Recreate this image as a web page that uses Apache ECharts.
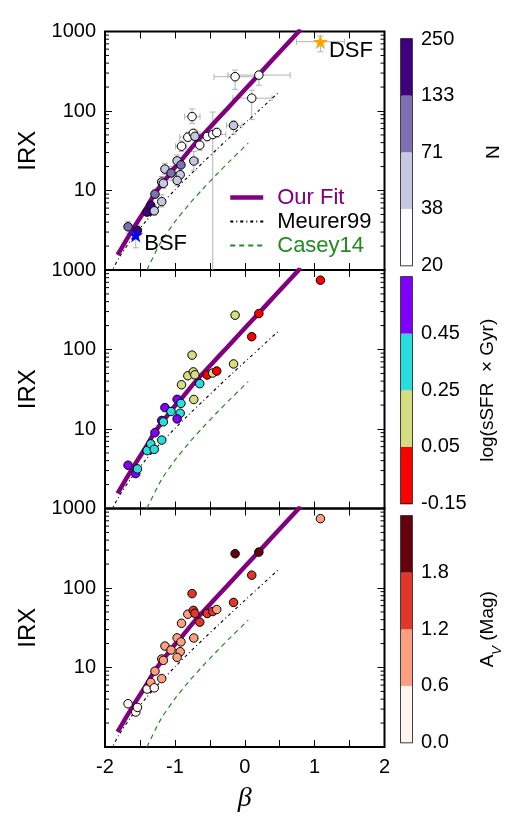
<!DOCTYPE html>
<html><head><meta charset="utf-8">
<script src="https://cdn.jsdelivr.net/npm/echarts@6/dist/echarts.min.js"></script>
<style>html,body{margin:0;padding:0;background:#fff}#c{width:517px;height:831px}</style>
</head><body><div id="c"></div>
<script>
// ---------------- data ----------------
const beta   = [-1.67,-1.56,-1.536,-1.397,-1.345,-1.295,-1.285,-1.188,-1.188,-1.165,-1.142,-1.055,-0.968,-0.913,-0.924,-0.968,-0.905,-0.815,-0.754,-0.736,-0.714,-0.729,-0.644,-0.537,-0.458,-0.401,-0.16,-0.138,0.1,0.202,1.083];
const irx    = [3.5,2.75,3.15,5.35,6.5,5.55,9.0,7.25,12.8,12.3,18.6,16.6,23.6,21.0,15.8,13.4,36,46.8,85,52.3,48,23.5,37.2,47.8,50.6,53.6,65.8,270,145,283,745];
const betaLo = [-1.72,-1.60,-1.57,-1.44,-1.39,-1.33,-1.33,-1.23,-1.24,-1.21,-1.19,-1.10,-1.02,-0.97,-0.98,-1.01,-0.99,-0.93,-0.86,-0.80,-0.77,-0.78,-0.70,-0.64,-0.64,-0.46,-0.26,-0.44,-0.17,-0.24,0.74];
const betaHi = [-1.62,-1.53,-1.50,-1.36,-1.31,-1.26,-1.24,-1.15,-1.14,-1.12,-1.10,-1.01,-0.91,-0.87,-0.88,-0.92,-0.83,-0.70,-0.64,-0.67,-0.65,-0.66,-0.60,-0.44,-0.27,-0.34,-0.04,0.17,0.39,0.65,1.43];
const irxLo  = [2.9,1.9,2.8,4.8,5.9,4.9,8.0,6.2,11.2,10.6,16,13.5,20,17,13,11.5,31,41,70,45,42,18,32,42,0.5,47,51,187,78,211,556];
const irxHi  = [4.1,3.3,3.6,6.1,7.4,6.4,10.4,8.8,15,14,22,20,28,26,19.5,16,42,54,106,59,56,31,43,55,97,61,75,327,183,302,877];
const starNames = ['','BSF','','','','','','','','','','','','','','','','','','','','','','','','','','','','','DSF'];
const nGal    = [100,180,180,180,180,50,100,50,50,50,50,100,50,100,50,50,25,25,25,25,50,50,25,25,25,25,50,25,25,25,25];
const logSSFR = [0.55,0.55,0.35,0.35,0.35,0.35,0.55,0.35,0.55,0.35,0.55,0.35,0.55,0.35,0.35,0.55,0.15,0.15,0.15,0.15,0.15,0.15,0.35,-0.05,0.15,-0.05,0.15,0.15,-0.05,-0.05,-0.05];
const aV      = [0.3,0.3,0.3,0.3,0.9,0.3,0.9,0.9,0.9,0.9,0.9,0.9,0.9,0.9,0.9,0.9,0.9,0.9,1.5,1.5,1.5,0.9,1.5,1.5,1.5,0.9,1.5,2.1,1.5,2.1,0.9];

const fitBeta = [-1.82,-1.7,-1.6,-1.5,-1.4,-1.3,-1.2,-1.1,-1.0,-0.9,-0.7,-0.5,-0.25,0,0.2,0.4,0.6,0.8];
const fitIRX  = [1.55,2.34,3.27,4.5,6.2,8.8,11.6,15.1,19.5,24.5,40,62,107,185,286,444,687,1064];
const meurerBeta = [-1.92,-1.8,-1.6,-1.4,-1.2,-1.0,-0.8,-0.6,-0.4,-0.2,0,0.2,0.5];
const meurerIRX  = [0.9,1.42,2.58,4.26,6.67,10.15,15.2,22.4,32.9,48,69.7,101,176];
const caseyBeta = [-1.4,-1.2,-1.0,-0.8,-0.6,-0.4,-0.2,0,0.05];
const caseyIRX  = [1.0,2.24,4.03,6.65,10.45,16.0,24.1,35.8,39.5];

const xMin = -2, xMax = 2, xInterval = 0.5;
const yMin = 1, yMax = 1000;
const yMinorTicks = [2,3,4,5,6,7,8,9,20,30,40,50,60,70,80,90,200,300,400,500,600,700,800,900];

const nBounds = [20,38,71,133,250];
const nLabels = ['20','38','71','133','250'];
const nColors = ['#fcfbfd','#c6c7e1','#7c70b3','#3f007d'];
const ssfrBounds = [-0.15,0.05,0.25,0.45,0.65];
const ssfrLabels = ['-0.15','0.05','0.25','0.45',''];
const ssfrColors = ['#ff0000','#d4dd80','#2adddd','#8000ff'];
const avBounds = [0,0.6,1.2,1.8,2.4];
const avLabels = ['0.0','0.6','1.2','1.8',''];
const avColors = ['#fff5f0','#fc9f81','#e2362a','#67000d'];

// ---------------- layout ----------------
const FONT = '"Liberation Sans", Arial, Helvetica, sans-serif';
const panelTop = [31.5, 270, 508.5], panelH = 238.5, panelLeft = 105, panelW = 279.5;
const cbTop = [39, 277, 516], cbH = 226.5, cbLeft = 401, cbW = 11;

const zip = (a, b) => a.map((v, i) => [v, b[i]]);

const grids = [];
panelTop.forEach(t => grids.push({left: panelLeft, top: t, width: panelW, height: panelH, show: true, borderColor: '#000', borderWidth: 2, backgroundColor: 'transparent'}));
cbTop.forEach(t => grids.push({left: cbLeft, top: t, width: cbW, height: cbH, show: true, borderColor: '#000', borderWidth: 1.5, backgroundColor: 'transparent'}));

const xAxes = [], yAxes = [];
for (let i = 0; i < 3; i++) {
  xAxes.push({type: 'value', gridIndex: i, min: xMin, max: xMax, interval: xInterval, position: 'bottom',
    axisLine: {show: false, onZero: false}, splitLine: {show: false},
    axisTick: {inside: true, length: 7, lineStyle: {color: '#000', width: 1}},
    axisLabel: {show: i === 2, margin: 10, fontSize: 20, fontFamily: FONT, color: '#000',
      formatter: v => Number.isInteger(v) ? String(v) : ''},
    name: i === 2 ? 'β' : '', nameLocation: 'middle', nameGap: 38,
    nameTextStyle: {fontFamily: '"Liberation Serif", "DejaVu Serif", serif', fontStyle: 'italic', fontSize: 28, color: '#000'}});
}
for (let i = 0; i < 3; i++) {
  xAxes.push({type: 'value', gridIndex: i, min: xMin, max: xMax, interval: xInterval, position: 'top',
    axisLine: {show: false, onZero: false}, splitLine: {show: false},
    axisTick: {inside: true, length: 7, lineStyle: {color: '#000', width: 1}}, axisLabel: {show: false}});
}
const cbLabelSets = [nLabels, ssfrLabels, avLabels];
const cbNames = ['N', 'log(sSFR  × Gyr)', '{n|A}{s|V}{n| (Mag)}'];
const cbGaps = [72, 66, 66];
for (let i = 0; i < 3; i++) {
  xAxes.push({type: 'category', gridIndex: 3 + i, data: ['c'], show: false});
}
for (let i = 0; i < 3; i++) {
  yAxes.push({type: 'log', logBase: 10, gridIndex: i, min: yMin, max: yMax, position: 'left',
    axisLine: {show: false, onZero: false}, splitLine: {show: false},
    axisTick: {inside: true, length: 7, lineStyle: {color: '#000', width: 1}},
    axisLabel: {margin: 9, fontSize: 20, fontFamily: FONT, color: '#000', showMinLabel: true, showMaxLabel: true,
      formatter: v => (Math.abs(v - 1) < 1e-6 ? '' : String(Math.round(v)))},
    name: 'IRX', nameLocation: 'middle', nameGap: 64, nameRotate: 90,
    nameTextStyle: {fontSize: 24, fontFamily: FONT, color: '#000'}});
}
for (let i = 0; i < 3; i++) {
  yAxes.push({type: 'log', logBase: 10, gridIndex: i, min: yMin, max: yMax, position: 'right',
    axisLine: {show: false, onZero: false}, splitLine: {show: false},
    axisTick: {inside: true, length: 7, lineStyle: {color: '#000', width: 1}}, axisLabel: {show: false}});
}
for (let i = 0; i < 3; i++) {
  const labs = cbLabelSets[i];
  yAxes.push({type: 'value', gridIndex: 3 + i, min: 0, max: labs.length - 1, interval: 1, position: 'right',
    axisLine: {show: false}, axisTick: {show: false}, splitLine: {show: false},
    axisLabel: {margin: 9, fontSize: 20, fontFamily: FONT, color: '#000', showMinLabel: true, showMaxLabel: true,
      formatter: v => labs[Math.round(v)]},
    name: cbNames[i], nameLocation: 'middle', nameGap: cbGaps[i], nameRotate: 90,
    nameTextStyle: {fontSize: 19, fontFamily: FONT, color: '#000',
      rich: {n: {fontSize: 19, fontFamily: FONT, color: '#000', lineHeight: 26, verticalAlign: 'top'},
             s: {fontSize: 13, fontFamily: FONT, fontStyle: 'italic', color: '#000', lineHeight: 26, verticalAlign: 'bottom'}}}});
}

// ---------------- series ----------------
const series = [];
const seg = (x1, y1, x2, y2, st) => ({type: 'line', shape: {x1, y1, x2, y2}, style: st});

// error bars (top panel)
series.push({type: 'custom', name: 'err', xAxisIndex: 0, yAxisIndex: 0, clip: true, z: 1,
  data: beta.map((b, i) => [b, irx[i], betaLo[i], betaHi[i], irxLo[i], irxHi[i]]),
  encode: {x: 0, y: 1},
  renderItem: (params, api) => {
    const x = api.value(0), y = api.value(1);
    const c = api.coord([x, y]);
    const xl = api.coord([api.value(2), y]), xh = api.coord([api.value(3), y]);
    const yl = api.coord([x, api.value(4)]), yh = api.coord([x, api.value(5)]);
    const st = {stroke: '#b3b3b3', lineWidth: 1}; const cap = 3;
    return {type: 'group', children: [
      seg(xl[0], c[1], xh[0], c[1], st), seg(xl[0], c[1] - cap, xl[0], c[1] + cap, st), seg(xh[0], c[1] - cap, xh[0], c[1] + cap, st),
      seg(c[0], yl[1], c[0], yh[1], st), seg(c[0] - cap, yl[1], c[0] + cap, yl[1], st), seg(c[0] - cap, yh[1], c[0] + cap, yh[1], st)
    ]};
  }});

const valueSets = [nGal, logSSFR, aV];
const scatterIdx = [];
for (let i = 0; i < 3; i++) {
  // minor ticks
  series.push({type: 'custom', name: 'minor' + i, xAxisIndex: i, yAxisIndex: i, z: 5, silent: true,
    data: yMinorTicks.map(v => [xMin, v]), encode: {x: 0, y: 1},
    renderItem: (params, api) => {
      const v = api.value(1);
      const l = api.coord([xMin, v]), r = api.coord([xMax, v]);
      const st = {stroke: '#000', lineWidth: 1};
      return {type: 'group', children: [seg(l[0], l[1], l[0] + 4, l[1], st), seg(r[0] - 4, r[1], r[0], r[1], st)]};
    }});
  series.push({type: 'line', name: 'Our Fit', xAxisIndex: i, yAxisIndex: i, data: zip(fitBeta, fitIRX), symbol: 'none', smooth: 0.3, z: 2,
    lineStyle: {color: '#800080', width: 4.5}, itemStyle: {color: '#800080'}});
  series.push({type: 'line', name: 'Meurer99', xAxisIndex: i, yAxisIndex: i, data: zip(meurerBeta, meurerIRX), symbol: 'none', smooth: 0.3, z: 2,
    lineStyle: {color: '#000', width: 1.1, type: [3, 3, 1, 3]}, itemStyle: {color: '#000'}});
  series.push({type: 'line', name: 'Casey14', xAxisIndex: i, yAxisIndex: i, data: zip(caseyBeta, caseyIRX), symbol: 'none', smooth: 0.3, z: 2,
    lineStyle: {color: '#228b22', width: 1.2, type: [5, 4]}, itemStyle: {color: '#228b22'}});
  const vals = valueSets[i];
  const pts = beta.map((b, k) => [b, irx[k], vals[k]]).filter((p, k) => i > 0 || starNames[k] === '');
  scatterIdx.push(series.length);
  series.push({type: 'scatter', name: 'pts' + i, xAxisIndex: i, yAxisIndex: i, data: pts, symbol: 'circle', symbolSize: 8.5, z: 3,
    itemStyle: {borderColor: '#000', borderWidth: 1, opacity: 1}});
}
// stars in top panel
const starStyle = ['#0000ff', '#ffa500'];
const starPath = 'path://M50,0 L61.2,34.5 L97.6,34.5 L68.2,55.9 L79.4,90.5 L50,69.1 L20.6,90.5 L31.8,55.9 L2.4,34.5 L38.8,34.5 Z';
series.push({type: 'scatter', name: 'stars', xAxisIndex: 0, yAxisIndex: 0, z: 4, symbol: starPath, symbolSize: 15,
  itemStyle: {opacity: 1},
  data: beta.map((b, k) => ({name: starNames[k], value: [b, irx[k]]})).filter(d => d.name !== '').map((d, j) => ({...d, itemStyle: {color: starStyle[j], opacity: 1}})),
  label: {show: true, position: 'right', distance: 1, offset: [0, 9], formatter: '{b}', fontSize: 22, fontFamily: FONT, color: '#000', opacity: 1}});

// colorbars
const cbColors = [nColors, ssfrColors, avColors];
for (let i = 0; i < 3; i++) {
  cbColors[i].forEach((c, j) => {
    series.push({type: 'bar', name: 'cb' + i + '_' + j, xAxisIndex: 6 + i, yAxisIndex: 6 + i, stack: 'cb' + i, data: [1],
      barWidth: '100%', barCategoryGap: 0, itemStyle: {color: c}, silent: true});
  });
}

const mkPieces = (bounds, colors) => colors.map((c, j) => (j === colors.length - 1 ? {gte: bounds[j], lte: bounds[j + 1], color: c} : {gte: bounds[j], lt: bounds[j + 1], color: c}));

const option = {
  animation: false,
  backgroundColor: '#fff',
  grid: grids, xAxis: xAxes, yAxis: yAxes, series,
  visualMap: [
    {type: 'piecewise', show: false, seriesIndex: scatterIdx[0], dimension: 2, pieces: mkPieces(nBounds, nColors)},
    {type: 'piecewise', show: false, seriesIndex: scatterIdx[1], dimension: 2, pieces: mkPieces(ssfrBounds, ssfrColors)},
    {type: 'piecewise', show: false, seriesIndex: scatterIdx[2], dimension: 2, pieces: mkPieces(avBounds, avColors)}
  ],
  legend: {orient: 'vertical', left: 223, top: 181, itemWidth: 33, itemHeight: 12, itemGap: 1,
    selectedMode: false, itemStyle: {opacity: 0},
    textStyle: {fontSize: 22, fontFamily: FONT, lineHeight: 23, padding: [0, 0, 0, 9]},
    data: [{name: 'Our Fit', textStyle: {color: '#800080'}, lineStyle: {width: 4.5}},
           {name: 'Meurer99', textStyle: {color: '#000'}},
           {name: 'Casey14', textStyle: {color: '#228b22'}}]}
};
const chart = echarts.init(document.getElementById('c'), null, {renderer: 'canvas'});
chart.setOption(option);
</script></body></html>
